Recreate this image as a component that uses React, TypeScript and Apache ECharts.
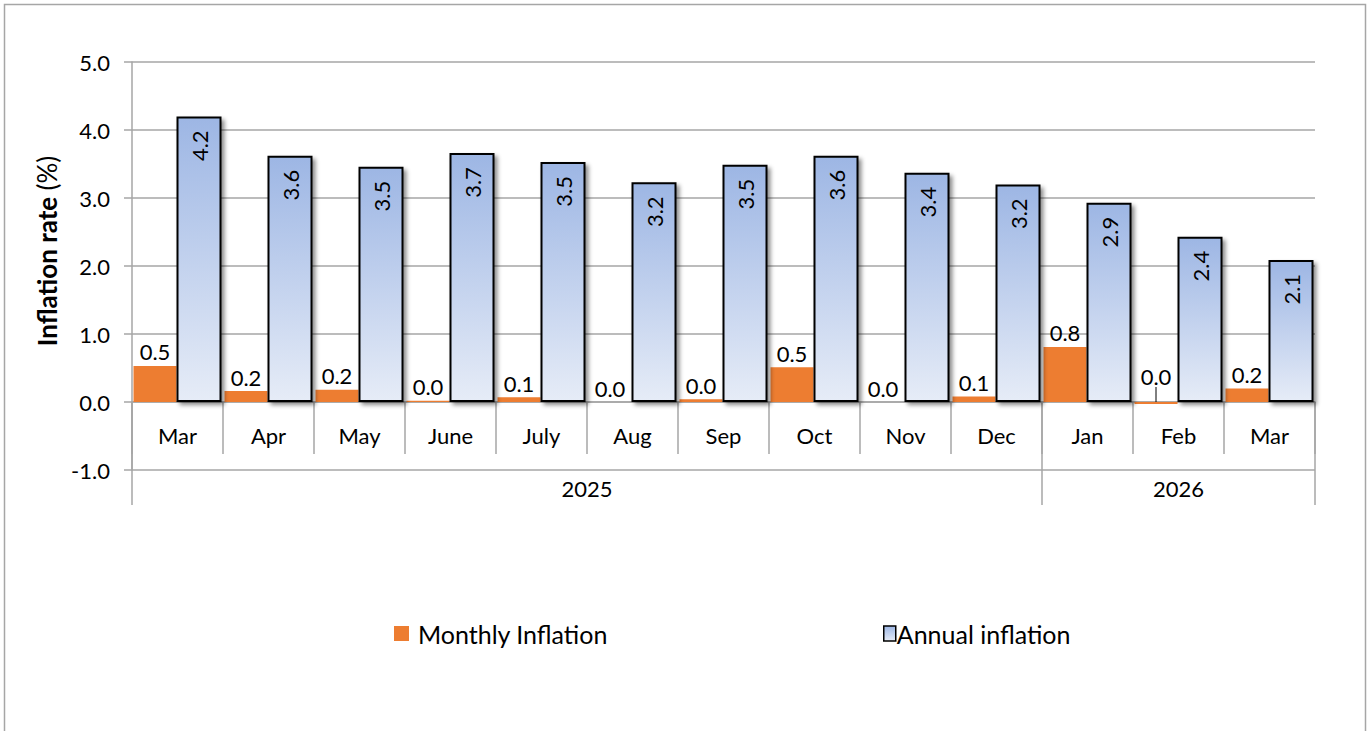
import React, { useEffect, useRef } from "react";
import * as echarts from "echarts";

const months = ["Mar", "Apr", "May", "June", "July", "Aug", "Sep", "Oct", "Nov", "Dec", "Jan", "Feb", "Mar"];
const years = ["2025", "2026"];
const yearSpans = [10, 3];
const monthlyInflation = [0.53, 0.16, 0.18, 0.02, 0.07, 0.0, 0.04, 0.51, 0.0, 0.08, 0.81, -0.03, 0.2];
const annualInflation = [4.2, 3.62, 3.46, 3.66, 3.53, 3.23, 3.49, 3.62, 3.37, 3.2, 2.93, 2.43, 2.09];
const yTicks = { min: -1, max: 5, interval: 1 };

const FONT = "Lato";
const GRID = "#a6a6a6";

const fmt = (v: number) => (Math.abs(v) < 0.05 ? "0.0" : v.toFixed(1));

export default function App() {
  const ref = useRef<HTMLDivElement>(null);
  useEffect(() => {
    document.body.style.margin = "0";
    const chart = echarts.init(ref.current!, undefined, { renderer: "svg" });
    const blueGrad = new echarts.graphic.LinearGradient(0, 0, 0, 1, [
      { offset: 0, color: "#9db6e4" },
      { offset: 1, color: "#e6ecf7" },
    ]);
    const yearBounds: number[] = [0];
    const yearCenters: number[] = [];
    let acc = 0;
    yearSpans.forEach((s) => {
      yearCenters.push(acc + s / 2);
      acc += s;
      yearBounds.push(acc);
    });
    const monthlyData = monthlyInflation.map((v) =>
      v < 0
        ? { value: v, labelLine: { show: true, lineStyle: { color: "#000", width: 1 } } }
        : v
    );
    const option: any = {
      animation: false,
      textStyle: { fontFamily: FONT },
      graphic: [
        {
          type: "rect",
          shape: { x: 4.5, y: 4.5, width: 1361, height: 760 },
          style: { fill: "none", stroke: "#a6a6a6", lineWidth: 1.5 },
          silent: true,
        },
      ],
      legend: [
        {
          left: 389,
          top: 616,
          itemWidth: 15,
          itemHeight: 15,
          icon: "rect",
          textStyle: { fontSize: 25, color: "#000", fontFamily: FONT, padding: [0, 0, 0, 4] },
          data: [{ name: "Monthly Inflation" }],
        },
        {
          left: 878,
          top: 616,
          itemWidth: 12,
          itemHeight: 15,
          icon: "rect",
          textStyle: { fontSize: 25, color: "#000", fontFamily: FONT, padding: [0, 0, 0, -4] },
          data: [
            {
              name: "Annual inflation",
              itemStyle: {
                color: blueGrad,
                borderColor: "#000",
                borderWidth: 1.5,
                shadowBlur: 0,
                shadowOffsetX: 0,
                shadowOffsetY: 0,
              },
            },
          ],
        },
      ],
      grid: { left: 132, right: 56, top: 62, bottom: 261, containLabel: false },
      xAxis: [
        {
          type: "category",
          data: months,
          boundaryGap: true,
          axisLine: { show: true, onZero: true, onZeroAxisIndex: 0, lineStyle: { color: GRID, width: 1.5 } },
          axisTick: { show: true, length: 52, interval: 0, lineStyle: { color: GRID, width: 1.5 } },
          axisLabel: { interval: 0, margin: -46, fontSize: 22, color: "#000", fontFamily: FONT },
          splitLine: { show: false },
        },
        {
          type: "value",
          min: 0,
          max: months.length + 0.0005,
          position: "bottom",
          axisLine: { show: false, onZero: true, onZeroAxisIndex: 0 },
          axisTick: {
            show: true,
            length: 103,
            customValues: yearBounds,
            lineStyle: { color: GRID, width: 1.5 },
          },
          axisLabel: {
            show: true,
            customValues: yearCenters,
            formatter: (v: number) => {
              const i = yearCenters.findIndex((c) => Math.abs(c - v) < 1e-6);
              return i >= 0 ? years[i] : "";
            },
            margin: 7,
            fontSize: 22,
            color: "#000",
            fontFamily: FONT,
          },
          splitLine: { show: false },
        },
      ],
      yAxis: {
        type: "value",
        min: yTicks.min,
        max: yTicks.max,
        interval: yTicks.interval,
        name: "{b|Inflation rate }{n|(%)}",
        nameLocation: "middle",
        nameGap: 63,
        nameRotate: 90,
        nameTextStyle: {
          padding: [0, 0, 0, 30],
          rich: {
            b: { fontSize: 26, fontWeight: "bold", color: "#000", fontFamily: FONT },
            n: { fontSize: 26, color: "#000", fontFamily: FONT },
          },
        },
        axisLine: { show: true, lineStyle: { color: GRID, width: 1.5 } },
        axisTick: { show: true, length: 8, lineStyle: { color: GRID, width: 1.5 } },
        axisLabel: {
          margin: 22,
          fontSize: 22,
          color: "#000",
          fontFamily: FONT,
          formatter: (v: number) => v.toFixed(1),
        },
        splitLine: { show: true, lineStyle: { color: GRID, width: 1.5 } },
      },
      series: [
        {
          name: "Monthly Inflation",
          type: "bar",
          xAxisIndex: 0,
          data: monthlyData,
          barWidth: 43,
          barGap: "0%",
          itemStyle: { color: "#ed7d31" },
          label: {
            show: true,
            position: "top",
            distance: 3,
            fontSize: 22,
            color: "#000",
            fontFamily: FONT,
            formatter: (p: any) => fmt(p.value),
          },
          labelLayout: (p: any) => (monthlyInflation[p.dataIndex] < 0 ? { dy: -12 } : {}),
          z: 2,
        },
        {
          name: "Annual inflation",
          type: "bar",
          xAxisIndex: 0,
          data: annualInflation,
          barWidth: 45,
          barGap: "0%",
          itemStyle: {
            color: blueGrad,
            borderColor: "#000",
            borderWidth: 2,
            shadowColor: "rgba(0,0,0,0.45)",
            shadowBlur: 4,
            shadowOffsetX: 3,
            shadowOffsetY: 3,
          },
          label: {
            show: true,
            position: "insideTop",
            rotate: 90,
            align: "right",
            verticalAlign: "middle",
            distance: 14,
            fontSize: 22,
            color: "#000",
            fontFamily: FONT,
            formatter: (p: any) => fmt(p.value),
          },
          z: 3,
        },
      ],
    };
    chart.setOption(option);
    return () => chart.dispose();
  }, []);
  return <div ref={ref} style={{ width: 1371, height: 731 }} />;
}
